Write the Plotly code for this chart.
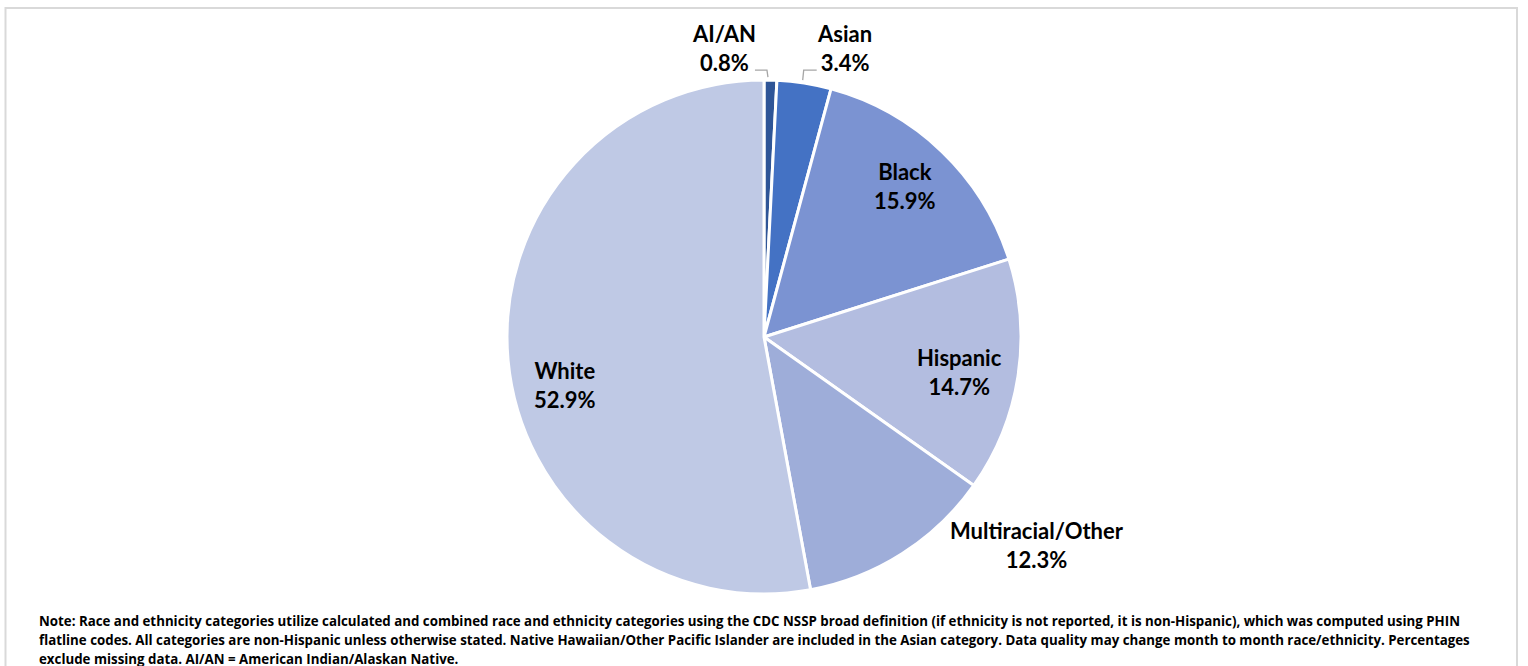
import math
import plotly.graph_objects as go

categories = ["AI/AN", "Asian", "Black", "Hispanic", "Multiracial/Other", "White"]
percentages = [0.8, 3.4, 15.9, 14.7, 12.3, 52.9]
slice_colors = ["#2F5597", "#4472C4", "#7B93D2", "#B3BDE0", "#9EADD9", "#BFC9E5"]

# label placement style: (radius factor along slice mid-angle, pixel shift dx, dy)
label_style = [
    (1.0, -46, -32),
    (1.0, 41, -35),
    (0.8, -1, -2),
    (0.8, -7, 3),
    (1.0, 135, -9),
    (0.8, 6, 29),
]
# elbow connectors for small slices, as pixel offsets from the slice's outer edge point
connectors = {
    0: [(-2, -3), (-3, -10), (-15, -10)],
    1: [(-1, -3), (0, -13), (13, -13)],
}

note_lines = [
    "Note: Race and ethnicity categories utilize calculated and combined race and ethnicity categories using the CDC NSSP broad definition (if ethnicity is not reported, it is non-Hispanic), which was computed using PHIN",
    "flatline codes. All categories are non-Hispanic unless otherwise stated. Native Hawaiian/Other Pacific Islander are included in the Asian category. Data quality may change month to month race/ethnicity. Percentages",
    "exclude missing data. AI/AN = American Indian/Alaskan Native.",
]

W, H = 1528, 666
mt, mb = 80, 72
ph = H - mt - mb
R = ph / 2
CX, CY = W / 2 - 0.5, mt + ph / 2

def px2x(p):
    return p / W

def px2y(p):
    return (H - mb - p) / ph

fig = go.Figure(go.Pie(
    labels=categories,
    values=percentages,
    sort=False,
    direction="clockwise",
    rotation=0,
    marker=dict(colors=slice_colors, line=dict(color="white", width=3)),
    textinfo="none",
    automargin=False,
    showlegend=False,
    hoverinfo="label+percent",
))

annotations = []
shapes = []
total = sum(percentages)
cum = 0.0
for i, (cat, val) in enumerate(zip(categories, percentages)):
    mid = (cum + val / 2) / total * 2 * math.pi
    cum += val
    rf, dx, dy = label_style[i]
    ex = CX + R * math.sin(mid)
    ey = CY - R * math.cos(mid)
    lx = CX + rf * R * math.sin(mid) + dx
    ly = CY - rf * R * math.cos(mid) + dy
    annotations.append(dict(
        text=f"<b>{cat}</b><br><b>{val:.1f}%</b>", xref="paper", yref="paper",
        x=px2x(lx), y=px2y(ly), xanchor="center", yanchor="middle",
        showarrow=False, align="center",
        font=dict(family="Lato", size=22, color="black"),
    ))
    if i in connectors:
        pts = [(ex + ox, ey + oy) for ox, oy in connectors[i]]
        path = "M " + " L ".join(f"{px2x(x):.5f},{px2y(y):.5f}" for x, y in pts)
        shapes.append(dict(type="path", xref="paper", yref="paper", path=path,
                           line=dict(color="#A6A6A6", width=1.3)))

for i, line in enumerate(note_lines):
    annotations.append(dict(
        text="<b>" + line + "</b>", xref="paper", yref="paper",
        x=px2x(37), y=px2y(620.5 + i * 19.3), xanchor="left", yanchor="middle",
        showarrow=False, font=dict(family="Open Sans", size=13.3, color="black"),
    ))

shapes.append(dict(type="rect", xref="paper", yref="paper",
                   x0=px2x(5.5), x1=px2x(1517), y0=px2y(690), y1=px2y(8),
                   line=dict(color="#D9D9D9", width=2), fillcolor="rgba(0,0,0,0)", layer="below"))

fig.update_layout(
    width=W, height=H,
    margin=dict(l=0, r=0, t=mt, b=mb),
    paper_bgcolor="white", plot_bgcolor="white",
    annotations=annotations,
    shapes=shapes,
)

fig.write_html("out.html", config={"displayModeBar": False},
               post_script="document.body.style.margin='0';")
